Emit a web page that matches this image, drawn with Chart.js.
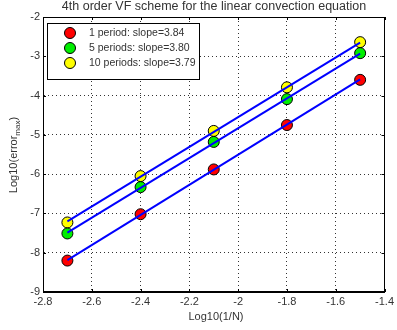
<!DOCTYPE html>
<html lang="en">
<head>
  <meta charset="UTF-8">
  <title>4th order VF scheme</title>
  <script src="https://cdn.jsdelivr.net/npm/chart.js"></script>
  <style>
    body { margin: 0; background: #fff; }
  </style>
</head>
<body>
  <canvas id="conv" width="397" height="330"></canvas>

  <script>
    // log10(1/N) for each resolution
    const logInvN = [-2.7, -2.4, -2.1, -1.8, -1.5];

    // log10 of max error
    const err1 = [-8.2, -7.02, -5.88, -4.75, -3.6];
    const err5 = [-7.51, -6.33, -5.18, -4.09, -2.92];
    const err10 = [-7.23, -6.05, -4.9, -3.79, -2.64];

    // fitted line end points at x = -2.7 and x = -1.5
    const fitX = [-2.7, -1.5];
    const fit1 = [-8.19, -3.59];
    const fit5 = [-7.49, -2.93];
    const fit10 = [-7.2, -2.65];

    const labels = ['1 period: slope=3.84', '5 periods: slope=3.80', '10 periods: slope=3.79'];
    const colors = ['#ff0000', '#00ee00', '#ffff00'];

    const xTicks = [-2.8, -2.6, -2.4, -2.2, -2, -1.8, -1.6, -1.4];
    const yTicks = [-9, -8, -7, -6, -5, -4, -3, -2];

    const pts = (xs, ys) => xs.map((x, i) => ({ x: x, y: ys[i] }));

    // lines go on top of the markers (lower order is drawn last)
    const fitLine = (ys) => ({
      type: 'line', order: 1, data: pts(fitX, ys), borderColor: '#0000ff', borderWidth: 2,
      pointRadius: 0, showLine: true, fill: false
    });
    const marks = (ys, c, lab) => ({
      type: 'scatter', order: 2, label: lab, data: pts(logInvN, ys), backgroundColor: c,
      borderColor: '#000', borderWidth: 1, pointRadius: 5.5, showLine: false
    });

    const font = 'Liberation Sans, Arial, sans-serif';
    const txt = '#333';

    // title, axis titles, boxed legend and inner tick marks, matlab style
    const decor = {
      id: 'decor',
      afterDraw(chart) {
        const c = chart.ctx, a = chart.chartArea;
        const xs = chart.scales.x, ys = chart.scales.y;
        c.save();
        c.strokeStyle = '#000';
        c.lineWidth = 1;
        c.beginPath();
        xTicks.forEach(v => {
          const px = Math.round(xs.getPixelForValue(v)) + 0.5;
          c.moveTo(px, a.bottom); c.lineTo(px, a.bottom - 3);
          c.moveTo(px, a.top); c.lineTo(px, a.top + 3);
        });
        yTicks.forEach(v => {
          const py = Math.round(ys.getPixelForValue(v)) + 0.5;
          c.moveTo(a.left, py); c.lineTo(a.left + 3, py);
          c.moveTo(a.right, py); c.lineTo(a.right - 3, py);
        });
        c.stroke();
        c.strokeRect(Math.round(a.left) + 0.5, Math.round(a.top) + 0.5,
          Math.round(a.right - a.left) - 1, Math.round(a.bottom - a.top) - 1);

        c.fillStyle = txt;
        c.textAlign = 'center';
        c.textBaseline = 'middle';
        c.font = '12.5px ' + font;
        c.fillText('4th order VF scheme for the linear convection equation', 214, 7);

        c.font = '11px ' + font;
        c.fillText('Log10(1/N)', 216, 317);

        // y title with subscript
        c.translate(14, 155);
        c.rotate(-Math.PI / 2);
        c.textAlign = 'left';
        const p1 = 'Log10(error', p2 = 'max', p3 = ')';
        c.font = '11px ' + font;
        const w1 = c.measureText(p1).width, w3 = c.measureText(p3).width;
        c.font = '8px ' + font;
        const w2 = c.measureText(p2).width;
        let x0 = -(w1 + w2 + w3) / 2;
        c.font = '11px ' + font;
        c.fillText(p1, x0, 0);
        c.font = '8px ' + font;
        c.fillText(p2, x0 + w1, 4);
        c.font = '11px ' + font;
        c.fillText(p3, x0 + w1 + w2, 0);
        c.restore();

        // legend box
        c.save();
        c.fillStyle = '#fff';
        c.fillRect(48, 23, 152, 57);
        c.strokeStyle = '#000';
        c.strokeRect(47.5, 23.5, 152, 56);
        c.font = '10.5px ' + font;
        c.textAlign = 'left';
        c.textBaseline = 'middle';
        labels.forEach((t, i) => {
          const y = 33 + i * 15;
          c.beginPath();
          c.arc(70, y, 5.5, 0, Math.PI * 2);
          c.fillStyle = colors[i];
          c.fill();
          c.stroke();
          c.fillStyle = txt;
          c.fillText(t, 89, y);
        });
        c.restore();
      }
    };

    const grid = { color: '#333', lineWidth: 1, drawTicks: false };
    const border = { display: true, color: '#000', dash: [1, 3] };

    new Chart(document.getElementById('conv').getContext('2d'), {
      data: {
        datasets: [
          fitLine(fit1), fitLine(fit5), fitLine(fit10),
          marks(err1, colors[0], labels[0]),
          marks(err5, colors[1], labels[1]),
          marks(err10, colors[2], labels[2])
        ]
      },
      options: {
        responsive: false,
        animation: false,
        layout: { padding: { top: 17, right: 7, left: 0, bottom: 0 } },
        plugins: { legend: { display: false }, tooltip: { enabled: false }, title: { display: false } },
        scales: {
          x: {
            type: 'linear', min: -2.8, max: -1.4,
            grid: grid, border: border,
            afterBuildTicks: s => { s.ticks = xTicks.map(v => ({ value: v })); },
            afterFit: s => { s.height = 38; },
            ticks: { color: txt, font: { family: font, size: 11 }, padding: 3,
              maxRotation: 0, callback: v => String(v) }
          },
          y: {
            type: 'linear', min: -9, max: -2,
            grid: grid, border: border,
            afterBuildTicks: s => { s.ticks = yTicks.map(v => ({ value: v })); },
            afterFit: s => { s.width = 43; },
            ticks: { color: txt, font: { family: font, size: 11 }, padding: 3,
              callback: v => String(v) }
          }
        }
      },
      plugins: [decor]
    });
  </script>
</body>
</html>
